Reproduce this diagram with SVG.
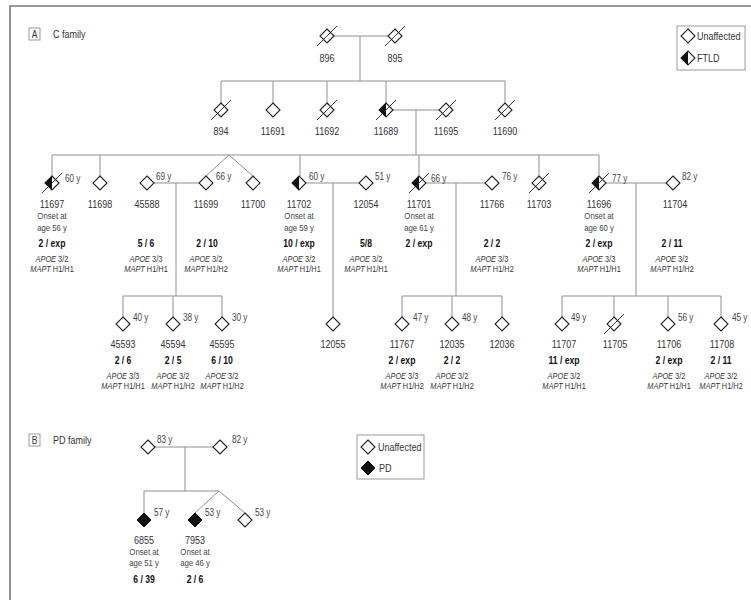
<svg xmlns="http://www.w3.org/2000/svg" width="751" height="600" viewBox="0 0 751 600">
<style>
text{font-family:"Liberation Sans",Arial,sans-serif;transform-box:fill-box;transform-origin:center;transform:scaleX(.82)}
.ln{stroke:#8f8f8f;stroke-width:1;fill:none}
.fr{stroke:#777;stroke-width:1.6;fill:none}
.bx{stroke:#999;stroke-width:1;fill:#fff}
.dm{fill:#fff;stroke:#222;stroke-width:1.1}
.id{font-size:11px;fill:#333;text-anchor:middle}
.on{font-size:9.5px;fill:#444;text-anchor:middle}
.b{font-size:10.5px;font-weight:bold;fill:#111;text-anchor:middle}
.g{font-size:9px;fill:#333;text-anchor:middle}
.g tspan.i{font-style:italic}
.ag{font-size:10px;fill:#444;transform-origin:left center}
.lg{font-size:11px;fill:#333;transform-origin:left center}
.pl{font-size:10.5px;fill:#333;text-anchor:middle}
</style>
<defs>
<path id="dia" class="dm" d="M0,-7L7,0L0,7L-7,0Z"/>
<g id="half"><path class="dm" d="M0,-7L7,0L0,7L-7,0Z"/><path d="M0,-7L-7,0L0,7Z" fill="#111"/></g>
<path id="full" d="M0,-7L7,0L0,7L-7,0Z" fill="#111" stroke="#111" stroke-width="1"/>
<line id="slash" x1="-10" y1="10" x2="10" y2="-10" stroke="#222" stroke-width="0.9"/>
</defs>

<!-- frame -->
<path class="fr" d="M10,600V6H751"/>

<!-- panel labels -->
<g id="panelA">
<rect class="bx" x="29" y="28" width="11" height="12" fill="none"/>
<text class="pl" x="34.5" y="38">A</text>
<text class="lg" x="53" y="38">C family</text>
</g>
<g id="panelB">
<rect class="bx" x="29" y="434" width="11" height="12" fill="none"/>
<text class="pl" x="34.5" y="444">B</text>
<text class="lg" x="53" y="444">PD family</text>
</g>

<!-- legends -->
<g id="legendA">
<rect class="bx" x="677" y="26" width="68" height="44"/>
<use href="#dia" x="688" y="36"/>
<text class="lg" x="697" y="40">Unaffected</text>
<use href="#half" x="688" y="58"/>
<text class="lg" x="697" y="62">FTLD</text>
</g>
<g id="legendB">
<rect class="bx" x="357" y="435" width="67" height="44"/>
<use href="#dia" x="368" y="447"/>
<text class="lg" x="378" y="451">Unaffected</text>
<use href="#full" x="368" y="468"/>
<text class="lg" x="379" y="472">PD</text>
</g>

<!-- connectors -->
<g id="connectors" class="ln">
<path d="M334,36H388M360,36V81M221,81H505M221,81V103M273,81V103M327,81V103M386,81V103M505,81V103"/>
<path d="M393,110H439M416,110V155M52,155H599M52,155V176M100,155V176M300,155V176M419,155V176M539,155V176M599,155V176M229,155L206,176M229,155L253,176"/>
<path d="M154,183H199M176,183V296M123,296H222M123,296V317M173,296V317M222,296V317"/>
<path d="M306,183H359M333,183V317"/>
<path d="M426,183H485M456,183V296M402,296H502M402,296V317M452,296V317M502,296V317"/>
<path d="M606,183H666M636,183V296M562,296H721M562,296V317M614,296V317M668,296V317M721,296V317"/>
<path d="M155,447H213M185,447V491M144,491H219M144,491V513M219,491L195,513M219,491L245,513"/>
</g>

<!-- generation I -->
<g id="n896" transform="translate(327,36)"><use href="#dia"/><use href="#slash"/><text class="id" y="26">896</text></g>
<g id="n895" transform="translate(395,36)"><use href="#dia"/><use href="#slash"/><text class="id" y="26">895</text></g>

<!-- generation II -->
<g id="n894" transform="translate(221,110)"><use href="#dia"/><use href="#slash"/><text class="id" y="25">894</text></g>
<g id="n11691" transform="translate(273,110)"><use href="#dia"/><text class="id" y="25">11691</text></g>
<g id="n11692" transform="translate(327,110)"><use href="#dia"/><use href="#slash"/><text class="id" y="25">11692</text></g>
<g id="n11689" transform="translate(386,110)"><use href="#half"/><use href="#slash"/><text class="id" y="25">11689</text></g>
<g id="n11695" transform="translate(446,110)"><use href="#dia"/><use href="#slash"/><text class="id" y="25">11695</text></g>
<g id="n11690" transform="translate(505,110)"><use href="#dia"/><use href="#slash"/><text class="id" y="25">11690</text></g>

<!-- generation III -->
<g id="n11697" transform="translate(52,183)"><use href="#half"/><use href="#slash"/>
<text class="ag" x="13" y="-1">60 y</text>
<text class="id" y="25">11697</text><text class="on" y="36">Onset at</text><text class="on" y="48">age 56 y</text>
<text class="b" y="64">2 / exp</text>
<text class="g" y="79"><tspan class="i">APOE</tspan> 3/2</text><text class="g" y="89"><tspan class="i">MAPT</tspan> H1/H1</text></g>
<g id="n11698" transform="translate(100,183)"><use href="#dia"/><text class="id" y="25">11698</text></g>
<g id="n45588" transform="translate(147,183)"><use href="#dia"/>
<text class="ag" x="9" y="-3">69 y</text>
<text class="id" y="25">45588</text>
<text class="b" x="-1" y="64">5 / 6</text>
<text class="g" x="-1" y="79"><tspan class="i">APOE</tspan> 3/3</text><text class="g" x="-1" y="89"><tspan class="i">MAPT</tspan> H1/H1</text></g>
<g id="n11699" transform="translate(206,183)"><use href="#dia"/>
<text class="ag" x="10" y="-3">66 y</text>
<text class="id" y="25">11699</text>
<text class="b" x="1" y="64">2 / 10</text>
<text class="g" y="79"><tspan class="i">APOE</tspan> 3/2</text><text class="g" y="89"><tspan class="i">MAPT</tspan> H1/H2</text></g>
<g id="n11700" transform="translate(253,183)"><use href="#dia"/><text class="id" y="25">11700</text></g>
<g id="n11702" transform="translate(299,183)"><use href="#half"/>
<text class="ag" x="10" y="-3">60 y</text>
<text class="id" y="25">11702</text><text class="on" y="36">Onset at</text><text class="on" y="48">age 59 y</text>
<text class="b" y="64">10 / exp</text>
<text class="g" y="79"><tspan class="i">APOE</tspan> 3/2</text><text class="g" y="89"><tspan class="i">MAPT</tspan> H1/H1</text></g>
<g id="n12054" transform="translate(366,183)"><use href="#dia"/>
<text class="ag" x="9" y="-3">51 y</text>
<text class="id" y="25">12054</text>
<text class="b" y="64">5/8</text>
<text class="g" y="79"><tspan class="i">APOE</tspan> 3/2</text><text class="g" y="89"><tspan class="i">MAPT</tspan> H1/H1</text></g>
<g id="n11701" transform="translate(419,183)"><use href="#half"/><use href="#slash"/>
<text class="ag" x="12" y="-1">66 y</text>
<text class="id" y="25">11701</text><text class="on" y="36">Onset at</text><text class="on" y="48">age 61 y</text>
<text class="b" y="64">2 / exp</text></g>
<g id="n11766" transform="translate(492,183)"><use href="#dia"/>
<text class="ag" x="10" y="-3">76 y</text>
<text class="id" y="25">11766</text>
<text class="b" y="64">2 / 2</text>
<text class="g" y="79"><tspan class="i">APOE</tspan> 3/3</text><text class="g" y="89"><tspan class="i">MAPT</tspan> H1/H2</text></g>
<g id="n11703" transform="translate(539,183)"><use href="#dia"/><use href="#slash"/><text class="id" y="25">11703</text></g>
<g id="n11696" transform="translate(599,183)"><use href="#half"/><use href="#slash"/>
<text class="ag" x="13" y="-1">77 y</text>
<text class="id" y="25">11696</text><text class="on" y="36">Onset at</text><text class="on" y="48">age 60 y</text>
<text class="b" y="64">2 / exp</text>
<text class="g" y="79"><tspan class="i">APOE</tspan> 3/3</text><text class="g" y="89"><tspan class="i">MAPT</tspan> H1/H1</text></g>
<g id="n11704" transform="translate(673,183)"><use href="#dia"/>
<text class="ag" x="9" y="-3">82 y</text>
<text class="id" x="2" y="25">11704</text>
<text class="b" x="-1" y="64">2 / 11</text>
<text class="g" x="-1" y="79"><tspan class="i">APOE</tspan> 3/2</text><text class="g" x="-1" y="89"><tspan class="i">MAPT</tspan> H1/H2</text></g>

<!-- generation IV -->
<g id="n45593" transform="translate(123,324)"><use href="#dia"/>
<text class="ag" x="10" y="-3">40 y</text>
<text class="id" y="24">45593</text><text class="b" y="40">2 / 6</text>
<text class="g" y="55"><tspan class="i">APOE</tspan> 3/3</text><text class="g" y="65"><tspan class="i">MAPT</tspan> H1/H1</text></g>
<g id="n45594" transform="translate(173,324)"><use href="#dia"/>
<text class="ag" x="10" y="-3">38 y</text>
<text class="id" y="24">45594</text><text class="b" y="40">2 / 5</text>
<text class="g" y="55"><tspan class="i">APOE</tspan> 3/2</text><text class="g" y="65"><tspan class="i">MAPT</tspan> H1/H2</text></g>
<g id="n45595" transform="translate(222,324)"><use href="#dia"/>
<text class="ag" x="10" y="-3">30 y</text>
<text class="id" y="24">45595</text><text class="b" y="40">6 / 10</text>
<text class="g" y="55"><tspan class="i">APOE</tspan> 3/2</text><text class="g" y="65"><tspan class="i">MAPT</tspan> H1/H2</text></g>
<g id="n12055" transform="translate(333,324)"><use href="#dia"/><text class="id" y="24">12055</text></g>
<g id="n11767" transform="translate(402,324)"><use href="#dia"/>
<text class="ag" x="11" y="-3">47 y</text>
<text class="id" y="24">11767</text><text class="b" y="40">2 / exp</text>
<text class="g" y="55"><tspan class="i">APOE</tspan> 3/3</text><text class="g" y="65"><tspan class="i">MAPT</tspan> H1/H2</text></g>
<g id="n12035" transform="translate(452,324)"><use href="#dia"/>
<text class="ag" x="10" y="-3">48 y</text>
<text class="id" y="24">12035</text><text class="b" y="40">2 / 2</text>
<text class="g" y="55"><tspan class="i">APOE</tspan> 3/2</text><text class="g" y="65"><tspan class="i">MAPT</tspan> H1/H2</text></g>
<g id="n12036" transform="translate(502,324)"><use href="#dia"/><text class="id" y="24">12036</text></g>
<g id="n11707" transform="translate(562,324)"><use href="#dia"/>
<text class="ag" x="9" y="-3">49 y</text>
<text class="id" x="2" y="24">11707</text><text class="b" x="2" y="40">11 / exp</text>
<text class="g" x="2" y="55"><tspan class="i">APOE</tspan> 3/2</text><text class="g" x="2" y="65"><tspan class="i">MAPT</tspan> H1/H1</text></g>
<g id="n11705" transform="translate(614,324)"><use href="#dia"/><use href="#slash"/><text class="id" x="1" y="24">11705</text></g>
<g id="n11706" transform="translate(668,324)"><use href="#dia"/>
<text class="ag" x="10" y="-3">56 y</text>
<text class="id" x="1" y="24">11706</text><text class="b" x="1" y="40">2 / exp</text>
<text class="g" x="1" y="55"><tspan class="i">APOE</tspan> 3/2</text><text class="g" x="1" y="65"><tspan class="i">MAPT</tspan> H1/H1</text></g>
<g id="n11708" transform="translate(721,324)"><use href="#dia"/>
<text class="ag" x="11" y="-3">45 y</text>
<text class="id" x="1" y="24">11708</text><text class="b" y="40">2 / 11</text>
<text class="g" y="55"><tspan class="i">APOE</tspan> 3/2</text><text class="g" y="65"><tspan class="i">MAPT</tspan> H1/H2</text></g>

<!-- PD family -->
<g id="pd83" transform="translate(148,447)"><use href="#dia"/><text class="ag" x="9" y="-4">83 y</text></g>
<g id="pd82" transform="translate(220,447)"><use href="#dia"/><text class="ag" x="12" y="-4">82 y</text></g>
<g id="n6855" transform="translate(144,520)"><use href="#full"/>
<text class="ag" x="10" y="-4">57 y</text>
<text class="id" y="24">6855</text><text class="on" y="35">Onset at</text><text class="on" y="46">age 51 y</text>
<text class="b" y="63">6 / 39</text></g>
<g id="n7953" transform="translate(195,520)"><use href="#full"/>
<text class="ag" x="10" y="-4">53 y</text>
<text class="id" y="24">7953</text><text class="on" y="35">Onset at</text><text class="on" y="46">age 46 y</text>
<text class="b" y="63">2 / 6</text></g>
<g id="pd53" transform="translate(245,520)"><use href="#dia"/><text class="ag" x="10" y="-4">53 y</text></g>
</svg>
